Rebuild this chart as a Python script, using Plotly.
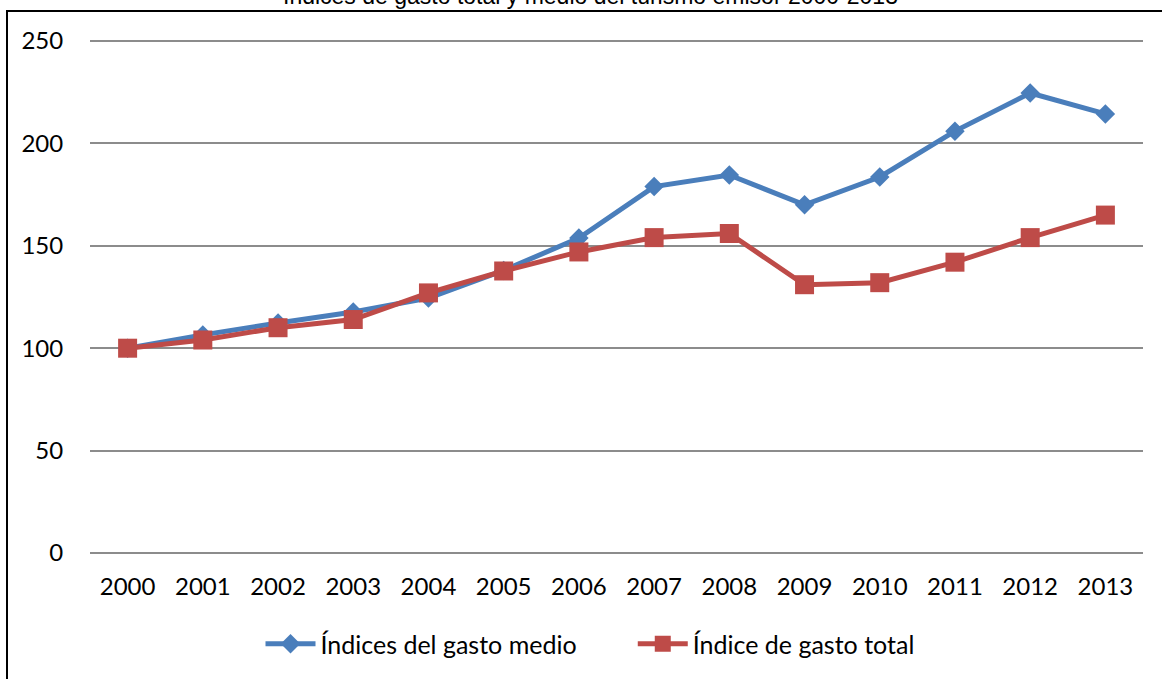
import plotly.graph_objects as go

years = ["2000", "2001", "2002", "2003", "2004", "2005", "2006",
         "2007", "2008", "2009", "2010", "2011", "2012", "2013"]
gasto_medio = [100, 106.5, 112.3, 117.7, 124.5, 138, 153.8,
               178.9, 184.6, 170, 183.6, 206, 224.6, 214.4]
gasto_total = [100, 104, 110, 114, 127, 137.7, 147,
               154, 156, 131, 132, 142, 154, 165]
y_ticks = [0, 50, 100, 150, 200, 250]

title_text = "Índices de gasto total y medio del turismo emisor 2000-2013"
blue = "#4A7EBB"
red = "#BE4B48"
tick_font = dict(family="Lato", size=24, color="black")
legend_font = dict(family="Lato", size=25, color="black")

fig = go.Figure()
fig.add_trace(go.Scatter(
    x=years, y=gasto_medio, name="Índices del gasto medio" + "\u00a0" * 8,
    mode="lines+markers",
    line=dict(color=blue, width=5),
    marker=dict(symbol="diamond", size=15, color=blue),
))
fig.add_trace(go.Scatter(
    x=years, y=gasto_total, name="Índice de gasto total",
    mode="lines+markers",
    line=dict(color=red, width=5),
    marker=dict(symbol="square", size=19, color=red),
))

L, R, T, B = 90, 19, 40, 125
W, H = 1162, 679
pw, ph = W - L - R, H - T - B

def px_x(p):
    return (p - L) / pw

def px_y(p):
    return (H - B - p) / ph

fig.update_layout(
    width=W, height=H,
    margin=dict(l=L, r=R, t=T, b=B, pad=0),
    paper_bgcolor="white", plot_bgcolor="white",
    showlegend=True,
    legend=dict(orientation="h", x=px_x(590), xanchor="center",
                y=px_y(644), yanchor="middle",
                font=legend_font, itemwidth=50,
                bgcolor="rgba(0,0,0,0)"),
    xaxis=dict(type="category", showgrid=False, zeroline=False,
               showline=False, ticks="outside", ticklen=11,
               tickcolor="rgba(0,0,0,0)", tickfont=tick_font,
               range=[-0.5, 13.5]),
    yaxis=dict(range=[-0.5, 250.5], tickvals=y_ticks, showgrid=True,
               gridcolor="#8C8C8C", gridwidth=2, zeroline=False,
               showline=False, ticks="outside", ticklen=21,
               tickcolor="rgba(0,0,0,0)", tickfont=tick_font),
    annotations=[dict(text=title_text, xref="paper", yref="paper",
                      x=px_x(590.5), y=px_y(-4.5), xanchor="center",
                      yanchor="middle", showarrow=False,
                      font=dict(family="Liberation Sans", size=23,
                                color="black"))],
    shapes=[dict(type="rect", xref="paper", yref="paper",
                 x0=px_x(7), x1=px_x(1175), y0=px_y(700), y1=px_y(11),
                 line=dict(color="black", width=2), layer="below")],
)

fig.write_html("out.html",
               config={"displayModeBar": False},
               post_script="document.body.style.margin='0';"
                           "document.body.style.overflow='hidden';")
